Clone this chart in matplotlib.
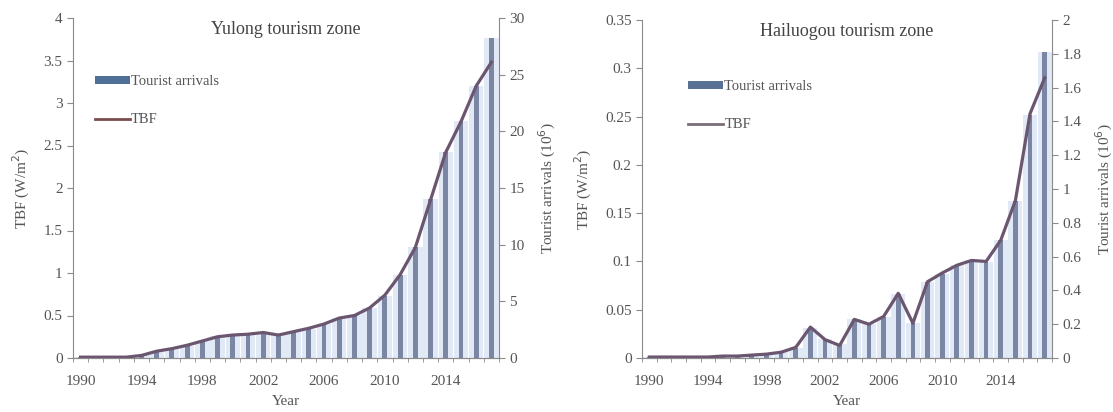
import matplotlib
matplotlib.use("Agg")
import matplotlib.pyplot as plt
from matplotlib.patches import Patch
from matplotlib.lines import Line2D
import numpy as np

years = list(range(1990, 2018))
tick_years = [1990, 1994, 1998, 2002, 2006, 2010, 2014]

# Yulong tourism zone
yulong_tbf = [0.01, 0.01, 0.01, 0.01, 0.03, 0.08, 0.11, 0.15, 0.20, 0.25,
              0.27, 0.28, 0.30, 0.27, 0.31, 0.35, 0.40, 0.47, 0.50, 0.59,
              0.74, 0.98, 1.30, 1.86, 2.42, 2.78, 3.20, 3.48]
yulong_arrivals = [0.08, 0.08, 0.08, 0.10, 0.25, 0.60, 0.85, 1.10, 1.50, 1.90,
                   2.00, 2.10, 2.25, 2.05, 2.35, 2.60, 3.00, 3.50, 3.80, 4.40,
                   5.50, 7.30, 9.80, 14.0, 18.2, 20.9, 24.0, 28.2]

# Hailuogou tourism zone
hailuogou_tbf = [0.001, 0.001, 0.001, 0.001, 0.001, 0.002, 0.002, 0.003, 0.004, 0.006,
                 0.011, 0.032, 0.019, 0.013, 0.040, 0.035, 0.043, 0.067, 0.036, 0.079,
                 0.088, 0.096, 0.101, 0.100, 0.122, 0.163, 0.253, 0.290]
hailuogou_arrivals = [0.005, 0.005, 0.005, 0.006, 0.006, 0.010, 0.012, 0.017, 0.023, 0.035,
                      0.060, 0.180, 0.110, 0.085, 0.230, 0.200, 0.245, 0.380, 0.205, 0.450,
                      0.500, 0.550, 0.580, 0.570, 0.700, 0.930, 1.440, 1.810]

plt.rcParams['font.family'] = ['Liberation Serif', 'DejaVu Serif']
TXT = '#555555'
SPINE = '#8a8a8a'
DARK = '#7b86a5'
LIGHT = '#e2e9f6'
LINE = '#6b5670'

fig = plt.figure(figsize=(11.13, 4.12), dpi=100)

panels = [
    dict(rect=[73 / 1113, 1 - 358 / 412, 426 / 1113, 340 / 412],
         title='Yulong tourism zone', tbf=yulong_tbf, arr=yulong_arrivals,
         ylim=(0, 4), yticks=[0, 0.5, 1, 1.5, 2, 2.5, 3, 3.5, 4],
         ylim2=(0, 30), yticks2=[0, 5, 10, 15, 20, 25, 30],
         patch_color='#4f6e98', legline='#7a4c4c', leg_anchor=(0.02, 0.87)),
    dict(rect=[642 / 1113, 1 - 358 / 412, 410 / 1113, 338 / 412],
         title='Hailuogou tourism zone', tbf=hailuogou_tbf, arr=hailuogou_arrivals,
         ylim=(0, 0.35), yticks=[0, 0.05, 0.1, 0.15, 0.2, 0.25, 0.3, 0.35],
         ylim2=(0, 2), yticks2=[0, 0.2, 0.4, 0.6, 0.8, 1, 1.2, 1.4, 1.6, 1.8, 2],
         patch_color='#5a7196', legline='#7a6e78', leg_anchor=(0.08, 0.86)),
]

def fmt(v):
    return '%g' % v

for p in panels:
    ax = fig.add_axes(p['rect'])
    ax2 = ax.twinx()
    x = np.arange(len(years))

    # bars on the right-hand scale
    ax2.bar(x, p['arr'], width=0.95, color=LIGHT, zorder=1)
    ax2.bar(x, p['arr'], width=0.32, color=DARK, zorder=2)
    ax2.set_ylim(*p['ylim2'])
    ax2.set_yticks(p['yticks2'])
    ax2.set_yticklabels([fmt(v) for v in p['yticks2']])
    ax2.set_ylabel('Tourist arrivals (10$^6$)', color=TXT, fontsize=11, labelpad=9)

    # TBF line on the left-hand scale, drawn above the bars
    ax.set_zorder(ax2.get_zorder() + 1)
    ax.patch.set_visible(False)
    ax.plot(x, p['tbf'], color=LINE, lw=2.3, solid_joinstyle='round')
    ax.set_ylim(*p['ylim'])
    ax.set_yticks(p['yticks'])
    ax.set_yticklabels([fmt(v) for v in p['yticks']])
    ax.set_ylabel('TBF (W/m$^2$)', color=TXT, fontsize=11, labelpad=8)
    ax.set_xlim(-0.5, len(years) - 0.5)
    ax.set_xticks([years.index(y) for y in tick_years])
    ax.set_xticklabels([str(y) for y in tick_years])
    ax.set_xticks(np.arange(-0.5, len(years), 1), minor=True)
    ax.set_xlabel('Year', color=TXT, fontsize=11, labelpad=5)

    for a in (ax, ax2):
        a.spines['top'].set_visible(False)
        for s in ('left', 'right', 'bottom'):
            a.spines[s].set_color(SPINE)
        a.tick_params(colors=SPINE, labelcolor=TXT, labelsize=11, length=4)
    ax.tick_params(axis='x', which='major', length=0, pad=12)
    ax.tick_params(axis='x', which='minor', length=3, color=SPINE)
    ax2.spines['left'].set_visible(False)
    ax.spines['right'].set_visible(False)

    ax.text(0.5, 0.965, p['title'], transform=ax.transAxes, ha='center', va='center',
            fontsize=13, color='#444444')

    handles = [Patch(facecolor=p['patch_color'], edgecolor='none'),
               Line2D([0], [0], color=p['legline'], lw=2)]
    ax.legend(handles, ['Tourist arrivals', 'TBF'], loc='upper left',
              bbox_to_anchor=p['leg_anchor'], frameon=False, fontsize=10.5,
              labelcolor=TXT, handlelength=2.4, handleheight=0.45,
              handletextpad=0.1, labelspacing=1.7)

fig.savefig('out.png', dpi=100)
